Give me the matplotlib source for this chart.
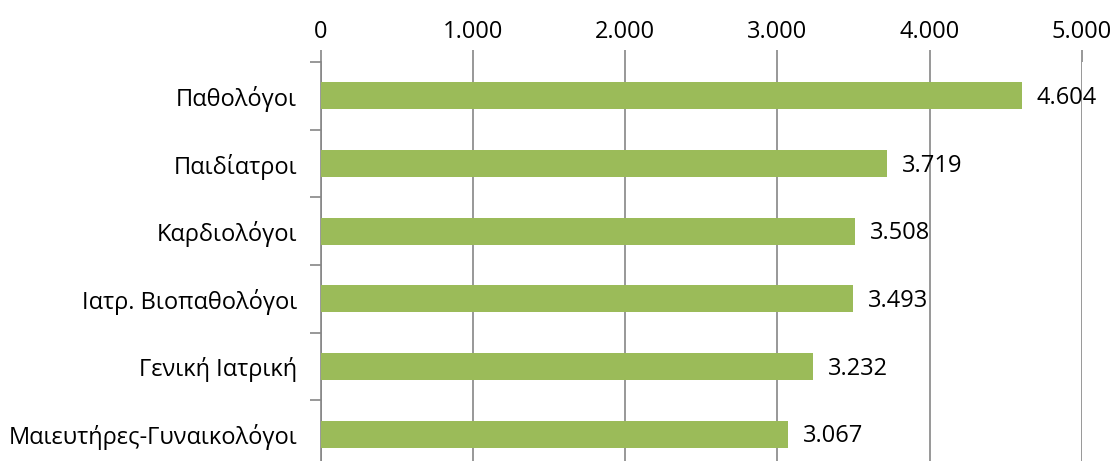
import numpy as np
from matplotlib import pyplot as plt
from matplotlib import rcParams
from matplotlib.ticker import FuncFormatter

rcParams["font.family"] = ["Open Sans", "DejaVu Sans"]
rcParams["font.size"] = 17

specialties = ["Παθολόγοι", "Παιδίατροι", "Καρδιολόγοι", "Ιατρ. Βιοπαθολόγοι",
               "Γενική Ιατρική", "Μαιευτήρες-Γυναικολόγοι"]
counts = [4604, 3719, 3508, 3493, 3232, 3067]
xticks = [0, 1000, 2000, 3000, 4000, 5000]


def dotted(v):
    return f"{int(v):,}".replace(",", ".")


fig = plt.figure(figsize=(11.14, 4.61), dpi=100)
ax = fig.add_axes([0.288, -0.0152, 0.6832, 0.8807])

grey = "#868686"
y = np.arange(len(specialties))
ax.barh(y, counts, height=0.4, color="#9BBB59", zorder=3)
for yi, v in zip(y, counts):
    ax.text(v + 100, yi + 0.03, dotted(v), va="center", ha="left", fontsize=17, zorder=4)

ax.set_xlim(0, 5000)
ax.set_ylim(len(specialties) - 0.5, -0.5)
ax.xaxis.tick_top()
ax.set_xticks(xticks)
ax.xaxis.set_major_formatter(FuncFormatter(lambda v, p: dotted(v)))
ax.tick_params(axis="x", length=9, width=1.2, color=grey, pad=4)
ax.grid(axis="x", color=grey, linewidth=1.2, zorder=0)

ax.set_yticks(y)
ax.set_yticklabels(specialties)
ax.set_yticks(np.arange(-0.5, len(specialties)), minor=True)
ax.tick_params(axis="y", which="major", length=0, pad=17)
ax.tick_params(axis="y", which="minor", length=8, width=1.2, color=grey)

for side in ["top", "right", "bottom"]:
    ax.spines[side].set_visible(False)
ax.spines["left"].set_color(grey)
ax.spines["left"].set_linewidth(1.2)

fig.savefig("out.png", dpi=100)
